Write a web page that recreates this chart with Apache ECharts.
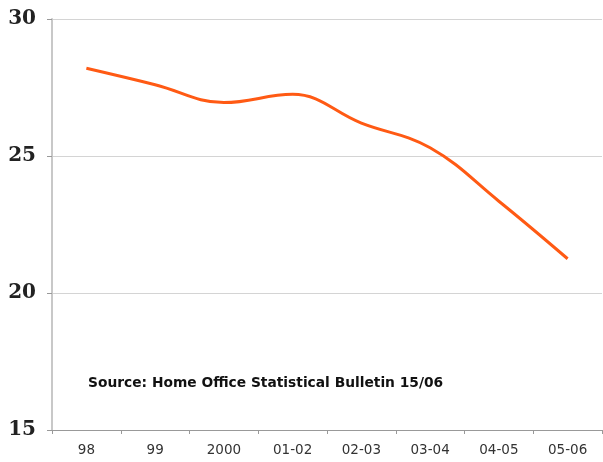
<!DOCTYPE html>
<html>
<head>
<meta charset="utf-8">
<script src="https://cdn.jsdelivr.net/npm/echarts@6/dist/echarts.min.js"></script>
<style>
  html, body { margin: 0; padding: 0; background: #fff; }
  #chart { width: 603px; height: 462px; }
</style>
</head>
<body>
<div id="chart"></div>
<script>
  // values
  var years = ['98', '99', '2000', '01-02', '02-03', '03-04', '04-05', '05-06'];
  var rate = [28.2, 27.6, 26.95, 27.25, 26.2, 25.3, 23.35, 21.25];
  var yTicks = [15, 20, 25, 30];

  var chart = echarts.init(document.getElementById('chart'));
  chart.setOption({
    animation: false,
    grid: { left: 52, right: 1, top: 19, bottom: 32 },
    xAxis: {
      type: 'category',
      data: years,
      boundaryGap: true,
      axisLine: { lineStyle: { color: '#999', width: 1 } },
      axisTick: { show: true, length: 4, lineStyle: { color: '#999' } },
      axisLabel: {
        margin: 13,
        color: '#333',
        fontFamily: 'DejaVu Sans',
        fontSize: 13.5
      }
    },
    yAxis: {
      type: 'value',
      min: yTicks[0],
      max: yTicks[yTicks.length - 1],
      interval: 5,
      axisLine: { show: true, lineStyle: { color: '#c8c8c8', width: 2 } },
      axisTick: { show: true, length: 5, lineStyle: { color: '#999' } },
      splitLine: { lineStyle: { color: '#d4d4d4', width: 1 } },
      axisLabel: {
        margin: 16,
        color: '#222',
        fontFamily: 'DejaVu Serif',
        fontWeight: 'bold',
        fontSize: 20
      }
    },
    graphic: [{
      type: 'text',
      left: 88,
      top: 376,
      style: {
        text: 'Source: Home Office Statistical Bulletin 15/06',
        fontFamily: 'DejaVu Sans',
        fontWeight: 'bold',
        fontSize: 13.8,
        fill: '#111'
      }
    }],
    series: [{
      type: 'line',
      data: rate,
      smooth: 0.4,
      symbol: 'none',
      lineStyle: { color: '#ff5a14', width: 3 }
    }]
  });
</script>
</body>
</html>
